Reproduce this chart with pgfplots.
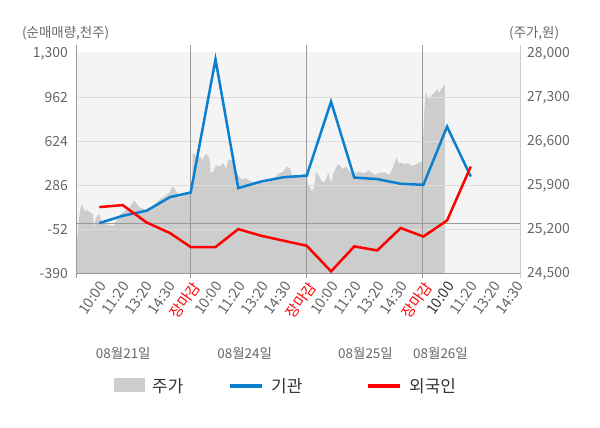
\documentclass[border=0pt]{standalone}
\usepackage{fontspec}
\setmainfont{Noto Sans CJK KR}
\usepackage{pgfplots}
\usepackage{pgfplotstable}
\pgfplotsset{compat=1.18}
\definecolor{bg}{HTML}{F4F4F4}
\definecolor{areagray}{HTML}{CDCDCD}
\definecolor{gridc}{HTML}{DCDCDC}
\definecolor{axc}{HTML}{999999}
\definecolor{axlight}{HTML}{CCCCCC}
\definecolor{txt}{HTML}{666666}
\definecolor{darktxt}{HTML}{333333}
\definecolor{blueline}{HTML}{0A7FCF}
\definecolor{redline}{HTML}{FF0000}

\pgfplotstableread{
x y
-0.914 24500
-0.914 24850
-0.860 25077
-0.780 25400
-0.711 25553
-0.642 25616
-0.539 25494
-0.427 25521
-0.280 25473
-0.181 25458
-0.138 25210
-0.065 25394
0.078 25458
0.220 25310
0.435 25283
0.724 25267
0.797 25335
0.940 25426
1.155 25494
1.371 25548
1.513 25628
1.616 25669
1.728 25601
1.875 25548
2.091 25521
2.375 25574
2.664 25680
2.879 25732
3.095 25786
3.237 25891
3.384 25839
3.526 25707
3.668 25760
3.884 25786
4.030 25796
4.099 25998
4.116 26422
4.216 26395
4.315 26316
4.431 26368
4.547 26316
4.647 26395
4.720 26411
4.832 26343
4.892 26104
5.004 26130
5.121 26236
5.220 26209
5.366 26236
5.435 26263
5.552 26168
5.651 26316
5.797 26316
5.897 26236
6.013 26104
6.125 26050
6.228 25998
6.371 26025
6.513 25998
6.659 25971
6.802 25955
6.944 25971
7.159 25945
7.375 25971
7.591 26009
7.806 26093
8.022 26130
8.168 26209
8.310 26184
8.384 26077
8.599 26050
8.815 26077
8.957 26104
9.010 26093
9.090 25918
9.172 25891
9.246 25812
9.345 25866
9.431 26130
9.530 26077
9.634 25998
9.746 25955
9.862 25998
9.961 26114
10.034 25998
10.108 25971
10.177 26104
10.293 26184
10.392 26252
10.496 26209
10.608 26168
10.724 26220
10.823 26157
10.970 26104
11.112 26104
11.254 26130
11.401 26114
11.543 26104
11.685 26157
11.832 26114
11.974 26077
12.190 26114
12.405 26114
12.591 26077
12.737 26184
12.836 26289
12.909 26368
12.978 26263
13.125 26263
13.267 26252
13.409 26263
13.556 26220
13.698 26236
13.841 26263
13.987 26289
14.010 26316
14.056 26713
14.099 27058
14.159 27401
14.246 27321
14.345 27280
14.444 27364
14.530 27376
14.634 27439
14.733 27385
14.849 27455
14.961 27507
14.991 27507
14.991 24500
}\pricetable

\pgfplotstableread{
x y
0.09 1
1.10 57
2.13 96
3.14 201
4.03 236
5.10 1259
6.08 270
7.06 320
8.05 354
9.03 365
10.08 934
11.08 351
12.07 339
13.08 303
14.06 295
15.08 742
16.10 359
}\insttable

\pgfplotstableread{
x y
0.09 124
1.10 139
2.13 6
3.14 -76
4.03 -183
5.10 -183
6.08 -45
7.06 -96
8.05 -135
9.03 -173
10.08 -370
11.08 -178
12.07 -209
13.08 -37
14.06 -102
15.08 21
16.10 435
}\fortable

\begin{document}
\begin{tikzpicture}
\useasboundingbox (0,0) rectangle (600bp,428bp);
\fill[bg] (76bp,154bp) rectangle (520bp,376bp);

% price axis (right)
\begin{axis}[
  at={(76bp,154bp)}, anchor=south west, scale only axis,
  width=444bp, height=220bp,
  xmin=-0.9138, xmax=18.224, ymin=24500, ymax=28000,
  axis x line=none, axis y line*=right,
  y axis line style={draw=none},
  xtick=\empty,
  ytick={24500,25200,25900,26600,27300,28000},
  major tick length=0pt,
  scaled y ticks=false,
  /pgf/number format/assume math mode=true,
  /pgf/number format/1000 sep={,},
  yticklabel style={font=\fontsize{14}{14}\selectfont, text=txt, inner sep=0pt, anchor=west, xshift=7bp},
]
\addplot[fill=areagray, draw=none] table {\pricetable};
\end{axis}

% net buying axis (left)
\begin{axis}[
  at={(76bp,154bp)}, anchor=south west, scale only axis,
  width=444bp, height=220bp,
  xmin=-0.9138, xmax=18.224, ymin=-390, ymax=1300,
  axis line style={draw=none},
  clip=false,
  ytick={-390,-52,286,624,962,1300},
  extra y ticks={-52,286,624,962},
  extra y tick labels={},
  extra y tick style={grid=major, major grid style={color=gridc, line width=1bp}},
  major tick length=0pt,
  scaled y ticks=false,
  /pgf/number format/assume math mode=true,
  /pgf/number format/1000 sep={,},
  yticklabel style={font=\fontsize{14}{14}\selectfont, text=txt, inner sep=0pt, anchor=east, xshift=-8bp},
  xtick={0,...,18},
  xticklabels={10:00,11:20,13:20,14:30,\textcolor{red}{장마감},10:00,11:20,13:20,14:30,\textcolor{red}{장마감},10:00,11:20,13:20,14:30,\textcolor{red}{장마감},\textcolor{darktxt}{10:00},11:20,13:20,14:30},
  xticklabel style={font=\fontsize{14.5}{14.5}\selectfont, text=txt, inner sep=0pt, xshift=1bp, yshift=-6bp, rotate=55, anchor=north east},
]
\draw[color=axc, line width=1.2bp] (axis cs:-0.9138,0) -- (axis cs:18.224,0);
\draw[color=axc, line width=1bp] ([yshift=-4bp]axis cs:4,-390) -- ([yshift=9bp]axis cs:4,1300);
\draw[color=axc, line width=1bp] ([yshift=-4bp]axis cs:9,-390) -- ([yshift=9bp]axis cs:9,1300);
\draw[color=axc, line width=1bp] ([yshift=-4bp]axis cs:14,-390) -- ([yshift=9bp]axis cs:14,1300);
\addplot[color=blueline, line width=2.5bp] table {\insttable};
\addplot[color=redline, line width=2.5bp] table {\fortable};
\end{axis}

% frame lines
\draw[color=axc, line width=1bp] (76bp,150bp) -- (76bp,383bp);
\draw[color=axlight, line width=1bp] (520bp,150bp) -- (520bp,383bp);
\draw[color=axc, line width=1bp] (76bp,154bp) -- (520bp,154bp);

% axis titles
\node[anchor=west, inner sep=0pt, text=txt, font=\fontsize{13.5}{13.5}\selectfont] at (22bp,394.7bp) {(순매매량,천주)};
\node[anchor=west, inner sep=0pt, text=txt, font=\fontsize{13.5}{13.5}\selectfont] at (509bp,394.7bp) {(주가,원)};

% date labels
\node[text=txt, inner sep=0pt, font=\fontsize{13.5}{13.5}\selectfont] at (123.3bp,74.7bp) {08월21일};
\node[text=txt, inner sep=0pt, font=\fontsize{13.5}{13.5}\selectfont] at (244.7bp,74.7bp) {08월24일};
\node[text=txt, inner sep=0pt, font=\fontsize{13.5}{13.5}\selectfont] at (365.5bp,74.7bp) {08월25일};
\node[text=txt, inner sep=0pt, font=\fontsize{13.5}{13.5}\selectfont] at (440.5bp,74.7bp) {08월26일};

% legend
\fill[areagray] (114bp,35.5bp) rectangle (145bp,49.5bp);
\node[anchor=west, inner sep=0pt, text=darktxt, font=\fontsize{17}{17}\selectfont] at (152bp,42bp) {주가};
\draw[color=blueline, line width=4bp] (230bp,42bp) -- (262bp,42bp);
\node[anchor=west, inner sep=0pt, text=darktxt, font=\fontsize{17}{17}\selectfont] at (271bp,42bp) {기관};
\draw[color=redline, line width=4bp] (368bp,42bp) -- (400bp,42bp);
\node[anchor=west, inner sep=0pt, text=darktxt, font=\fontsize{17}{17}\selectfont] at (409bp,42bp) {외국인};
\end{tikzpicture}
\end{document}
